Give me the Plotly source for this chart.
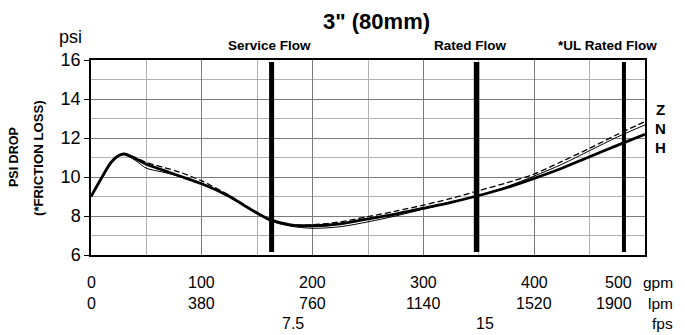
import plotly.graph_objects as go

# ---------------- data ----------------
gpm = [0, 10, 18, 25, 30, 40, 50, 65, 80, 100, 125, 145, 162, 180, 200,
       225, 250, 275, 300, 325, 350, 375, 400, 425, 450, 475, 500]
psi_H = [9.0, 10.0, 10.75, 11.1, 11.18, 10.95, 10.65, 10.35, 10.05, 9.65, 9.0, 8.31, 7.8, 7.55, 7.5,
         7.6, 7.85, 8.1, 8.4, 8.7, 9.05, 9.45, 9.93, 10.45, 11.04, 11.62, 12.19]
psi_N = [9.0, 9.95, 10.65, 11.05, 11.15, 10.85, 10.45, 10.25, 10.02, 9.65, 9.0, 8.3, 7.75, 7.48, 7.37,
         7.45, 7.7, 8.0, 8.35, 8.7, 9.05, 9.5, 10.05, 10.65, 11.35, 12.05, 12.67]
psi_Z = [9.0, 10.0, 10.7, 11.1, 11.2, 11.0, 10.75, 10.5, 10.25, 9.8, 9.05, 8.35, 7.8, 7.55, 7.55,
         7.7, 7.97, 8.25, 8.56, 8.9, 9.3, 9.7, 10.15, 10.8, 11.47, 12.18, 12.84]

flow_names = ["Service Flow", "Rated Flow", "*UL Rated Flow"]
flow_gpm = [163, 348, 481]

gpm_ticks = [0, 100, 200, 300, 400, 500]
lpm_ticks = ["0", "380", "760", "1140", "1520", "1900"]
fps_ticks = ["7.5", "15"]
fps_at_gpm = [182, 356]
psi_ticks = [6, 8, 10, 12, 14, 16]
series_labels = ["Z", "N", "H"]

FONT = "Liberation Sans, Arial, sans-serif"

# page body has an 8px default margin; compensate so the plot lands where the reference has it
OFF = 8
W, H = 685 - OFF, 335 - OFF
PL, PT, PW, PH = 91 - OFF, 60 - OFF, 554, 195

fig = go.Figure()

flow_widths = [5, 5.5, 4]
for xg, w in zip(flow_gpm, flow_widths):
    fig.add_trace(go.Scatter(x=[xg, xg], y=[6.15, 15.9], mode="lines",
                             line=dict(color="black", width=w), hoverinfo="skip",
                             showlegend=False))

fig.add_trace(go.Scatter(x=gpm, y=psi_Z, mode="lines", name="Z",
                         line=dict(color="black", width=1.3, dash="6px,3px", shape="spline", smoothing=0.8)))
fig.add_trace(go.Scatter(x=gpm, y=psi_N, mode="lines", name="N",
                         line=dict(color="black", width=1.0, shape="spline", smoothing=0.8)))
fig.add_trace(go.Scatter(x=gpm, y=psi_H, mode="lines", name="H",
                         line=dict(color="black", width=2.8, shape="spline", smoothing=0.8)))

fig.update_layout(
    width=W, height=H,
    margin=dict(l=PL, r=W - PL - PW, t=PT, b=H - PT - PH, autoexpand=False),
    paper_bgcolor="white", plot_bgcolor="white",
    showlegend=False,
    font=dict(family=FONT, color="black"),
)
fig.update_xaxes(range=[0, 500], showticklabels=False, ticks="",
                 dtick=100, tick0=0, showgrid=True, gridcolor="#7a7a7a", gridwidth=1,
                 minor=dict(dtick=50, showgrid=True, gridcolor="#b0b0b0", gridwidth=1),
                 showline=True, linecolor="black", linewidth=1.5, mirror=True, zeroline=False)
fig.update_yaxes(range=[6, 16], tickvals=psi_ticks, ticks="outside", ticklen=5, tickcolor="black",
                 tickfont=dict(size=18, family=FONT),
                 showgrid=True, gridcolor="#7a7a7a", gridwidth=1,
                 minor=dict(dtick=1, showgrid=True, gridcolor="#b0b0b0", gridwidth=1),
                 showline=True, linecolor="black", linewidth=1.5, mirror=True, zeroline=False)

def px_x(px):  # reference page pixel -> paper
    return (px - OFF - PL) / PW

def px_y(py):
    return (PT + PH - (py - OFF)) / PH

ann = []
ann.append(dict(text="<b>3\" (80mm)</b>", x=px_x(376), y=px_y(21), xref="paper", yref="paper",
                showarrow=False, font=dict(size=22, family=FONT), xanchor="center", yanchor="middle"))
flow_shift = [-2, -6, -16]
for name, xg, s in zip(flow_names, flow_gpm, flow_shift):
    ann.append(dict(text="<b>%s</b>" % name, x=xg, y=px_y(45), xref="x", yref="paper", xshift=s,
                    showarrow=False, font=dict(size=13.5, family=FONT), xanchor="center", yanchor="middle"))
ann.append(dict(text="psi", x=px_x(84), y=px_y(37), xref="paper", yref="paper",
                showarrow=False, font=dict(size=18, family=FONT), xanchor="right", yanchor="middle"))
ann.append(dict(text="<b>PSI DROP</b>", x=px_x(14), y=px_y(157), xref="paper", yref="paper",
                showarrow=False, textangle=-90, font=dict(size=12.5, family=FONT), xanchor="center", yanchor="middle"))
ann.append(dict(text="<b>(*FRICTION LOSS)</b>", x=px_x(38), y=px_y(158), xref="paper", yref="paper",
                showarrow=False, textangle=-90, font=dict(size=13.2, family=FONT), xanchor="center", yanchor="middle"))
for lab, py in zip(series_labels, [109, 128, 147]):
    ann.append(dict(text="<b>%s</b>" % lab, x=px_x(660), y=px_y(py), xref="paper", yref="paper",
                    showarrow=False, font=dict(size=15, family=FONT), xanchor="center", yanchor="middle"))
rows_y = [282, 303, 323]
for i, g in enumerate(gpm_ticks):
    last = i == len(gpm_ticks) - 1
    for txt, ry in [(str(g), rows_y[0]), (lpm_ticks[i], rows_y[1])]:
        if last:
            ann.append(dict(text=txt, x=px_x(634), y=px_y(ry), xref="paper", yref="paper",
                            showarrow=False, font=dict(size=16, family=FONT), xanchor="right", yanchor="middle"))
        else:
            ann.append(dict(text=txt, x=g, y=px_y(ry), xref="x", yref="paper",
                            showarrow=False, font=dict(size=16, family=FONT), xanchor="center", yanchor="middle"))
for txt, g in zip(fps_ticks, fps_at_gpm):
    ann.append(dict(text=txt, x=g, y=px_y(rows_y[2]), xref="x", yref="paper",
                    showarrow=False, font=dict(size=16, family=FONT), xanchor="center", yanchor="middle"))
for unit, ry in zip(["gpm", "lpm", "fps"], rows_y):
    ann.append(dict(text=unit, x=px_x(675), y=px_y(ry), xref="paper", yref="paper",
                    showarrow=False, font=dict(size=15.5, family=FONT), xanchor="right", yanchor="middle"))

fig.update_layout(annotations=ann)
fig.write_html("out.html")
